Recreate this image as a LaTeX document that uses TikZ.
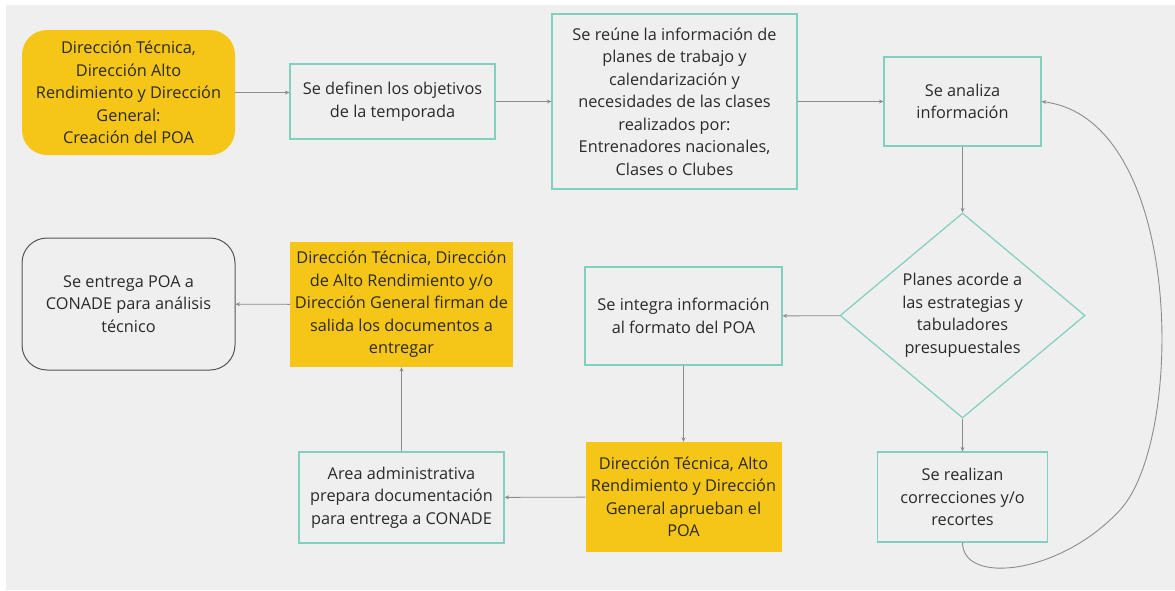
\documentclass[tikz,border=0pt]{standalone}
\usepackage{fontspec}
\setmainfont{Open Sans}
\usetikzlibrary{shapes.geometric,arrows.meta}
\definecolor{bgc}{HTML}{EFEFEF}
\definecolor{teal}{HTML}{80CFBF}
\definecolor{ylw}{HTML}{F5C518}
\definecolor{txt}{HTML}{2A2A2A}
\definecolor{arrc}{HTML}{8C8C8C}
\definecolor{edge}{HTML}{555555}
\tikzset{
  base/.style={align=center, text=txt, inner sep=0pt, font=\fontsize{16.3}{22.5}\selectfont},
  tbox/.style={base, rectangle, draw=teal, line width=1.2pt},
  ybox/.style={base, rectangle, fill=ylw},
  yround/.style={base, rectangle, rounded corners=25pt, fill=ylw},
  wround/.style={base, rectangle, rounded corners=25pt, draw=edge, line width=1pt},
  dbox/.style={base, diamond, draw=teal, line width=1.2pt},
  arr/.style={draw=arrc, line width=0.9pt, -{Stealth[length=4.5pt,width=4pt]}},
  curv/.style={draw=arrc, line width=0.9pt, -{Stealth[length=4.5pt,width=4pt]}}
}
\begin{document}
\begin{tikzpicture}[x=1pt,y=-1pt]
\useasboundingbox (0,0) rectangle (1175,590);
\fill[bgc] (6,5) rectangle (1175,590);

\node[yround, minimum width=213pt, minimum height=125pt] (n1) at (128.5,92.5)
  {Dirección Técnica,\\Dirección Alto\\Rendimiento y Dirección\\General:\\Creación del POA};
\node[tbox, minimum width=205pt, minimum height=75pt] (n2) at (392.5,101.5)
  {Se definen los objetivos\\de la temporada};
\node[tbox, minimum width=245pt, minimum height=175pt] (n3) at (674.5,101.5)
  {Se reúne la información de\\planes de trabajo y\\calendarización y\\necesidades de las clases\\realizados por:\\Entrenadores nacionales,\\Clases o Clubes};
\node[tbox, minimum width=157pt, minimum height=89pt] (n4) at (962.5,101.5)
  {Se analiza\\información};
\node[dbox, minimum width=245pt, minimum height=205pt] (n5) at (962.5,315.5)
  {Planes acorde a\\las estrategias y\\tabuladores\\presupuestales};
\node[tbox, minimum width=170pt, minimum height=90pt] (n6) at (962.5,497)
  {Se realizan\\correcciones y/o\\recortes};
\node[tbox, minimum width=197pt, minimum height=98pt] (n7) at (683.5,316)
  {Se integra información\\al formato del POA};
\node[ybox, minimum width=196pt, minimum height=110pt] (n8) at (683.5,497)
  {Dirección Técnica, Alto\\Rendimiento y Dirección\\General aprueban el\\POA};
\node[tbox, minimum width=205pt, minimum height=91pt] (n9) at (401.5,497.5)
  {Area administrativa\\prepara documentación\\para entrega a CONADE};
\node[ybox, minimum width=223pt, minimum height=125pt] (n10) at (401.5,304.5)
  {Dirección Técnica, Dirección\\de Alto Rendimiento y/o\\Dirección General firman de\\salida los documentos a\\entregar};
\node[wround, minimum width=213pt, minimum height=132pt] (n11) at (128.5,304)
  {Se entrega POA a\\CONADE para análisis\\técnico};

\draw[arr] (n1.east) -- (n1.east -| n2.west);
\draw[arr] (n2) -- (n3);
\draw[arr] (n3) -- (n4);
\draw[arr] (n4) -- (n5);
\draw[arr] (n5) -- (n6);
\draw[arr] (n5) -- (n7);
\draw[arr] (n7) -- (n8);
\draw[arr] (n8) -- (n9);
\draw[arr] (n9) -- (n10);
\draw[arr] (n10) -- (n11);
\draw[curv] (n6.south) .. controls (962.5,585) and (1060,575) .. (1120,510)
  .. controls (1185,440) and (1185,120) .. (n4.east);
\end{tikzpicture}
\end{document}
